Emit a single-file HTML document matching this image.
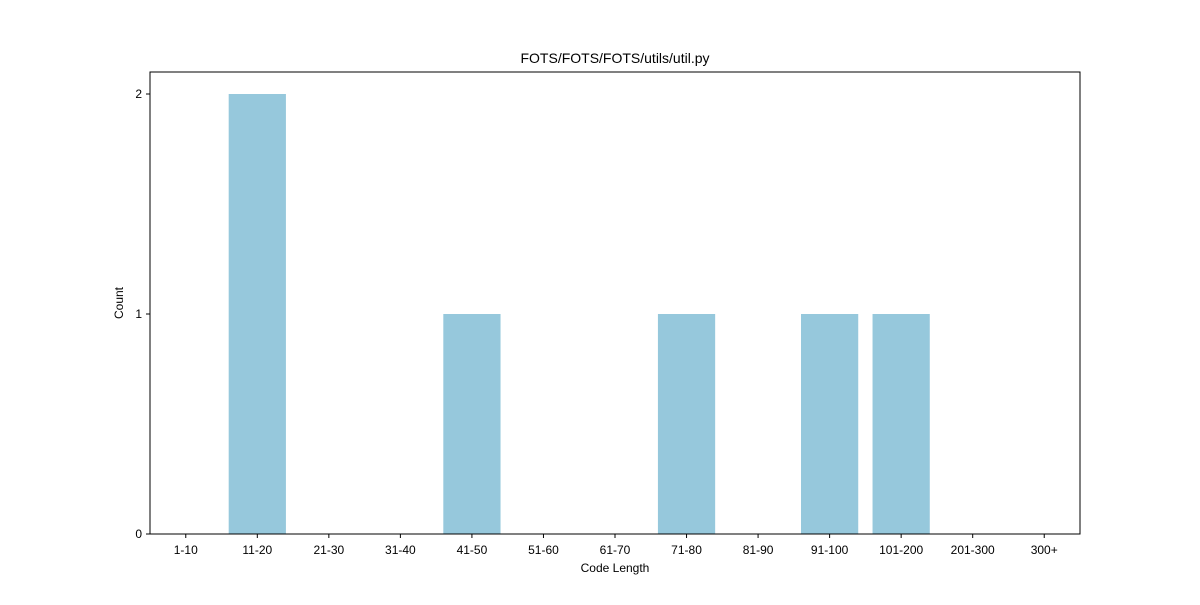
<!DOCTYPE html>
<html><head><meta charset="utf-8"><style>
body{margin:0;background:#fff;font-family:"Liberation Sans","DejaVu Sans",sans-serif}
svg text{font-family:"Liberation Sans","DejaVu Sans",sans-serif;fill:#000}
</style></head><body>
<svg id="chart" width="1200" height="600" xmlns="http://www.w3.org/2000/svg">
<rect width="1200" height="600" fill="#fff"/>
<text x="615" y="63" text-anchor="middle" font-size="14">FOTS/FOTS/FOTS/utils/util.py</text>
<g id="bars"></g>
<rect x="150" y="72" width="930" height="462" fill="none" stroke="#000" stroke-width="1"/>
<g id="xticks"></g><g id="yticks"></g>
<text x="615" y="572" text-anchor="middle" font-size="12">Code Length</text>
<text x="123" y="303" text-anchor="middle" font-size="12" transform="rotate(-90 123 303)">Count</text>
</svg>
<script>
const categories=["1-10","11-20","21-30","31-40","41-50","51-60","61-70","71-80","81-90","91-100","101-200","201-300","300+"];
const counts=[0,2,0,0,1,0,0,1,0,1,1,0,0];
const yTicks=[0,1,2];
const NS="http://www.w3.org/2000/svg";
const L=150,R=1080,T=72,B=534,xmin=-0.5,xmax=12.5,ymin=0,ymax=2.1;
const xs=v=>L+(v-xmin)/(xmax-xmin)*(R-L);
const ys=v=>B-(v-ymin)/(ymax-ymin)*(B-T);
const bars=document.getElementById('bars'),xt=document.getElementById('xticks'),yt=document.getElementById('yticks');
function mk(tag,attrs){const e=document.createElementNS(NS,tag);for(const k in attrs)e.setAttribute(k,attrs[k]);return e;}
categories.forEach((c,i)=>{
  const v=counts[i];
  if(v>0){
    const r=mk('rect',{x:xs(i-0.4),y:ys(v),width:xs(i+0.4)-xs(i-0.4),height:ys(0)-ys(v),fill:'#96c8dc'});
    
    
    bars.appendChild(r);
  }
  const tk=mk('line',{x1:xs(i),x2:xs(i),y1:B,y2:B+4,stroke:'#000'});
  
  
  xt.appendChild(tk);
  const t=mk('text',{x:xs(i),y:B+20,'text-anchor':'middle','font-size':'12'});
  t.textContent=c;
  
  
  xt.appendChild(t);
});
yTicks.forEach(v=>{
  const tk=mk('line',{x1:L-4,x2:L,y1:ys(v),y2:ys(v),stroke:'#000'});
  
  
  yt.appendChild(tk);
  const t=mk('text',{x:L-8,y:ys(v)+4,'text-anchor':'end','font-size':'12'});
  t.textContent=v;
  
  
  yt.appendChild(t);
});
</script>
</body></html>
